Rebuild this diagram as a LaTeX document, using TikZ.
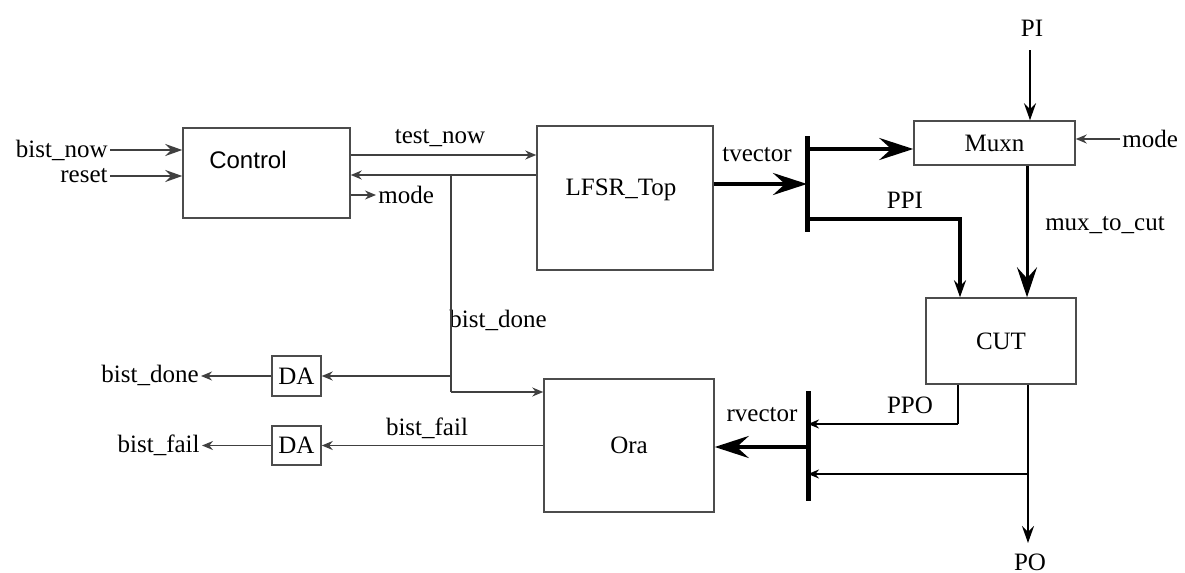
\documentclass[tikz,border=0pt]{standalone}
\usepackage{fontspec}
\setmainfont{Liberation Serif}
\newfontfamily\sansfont{Liberation Sans}
\usetikzlibrary{arrows.meta}

\begin{document}
\begin{tikzpicture}[x=0.5pt,y=-0.5pt,
  font=\fontsize{12.5}{14}\selectfont,
  box/.style={draw=black!70,line width=0.75pt,inner sep=0pt},
  sig/.style={draw=black!75,line width=0.75pt},
  tip/.style={-{Stealth[length=5.5pt,width=4.5pt,inset=1.8pt]}},
  midtip/.style={-{Stealth[length=8.5pt,width=6pt,inset=3pt]}},
  bigtip/.style={-{Stealth[length=15pt,width=10pt,inset=5.5pt]}},
  bustip/.style={-{Stealth[length=17pt,width=11pt,inset=6pt]}},
  bar/.style={line width=2.5pt},
  lbl/.style={inner sep=1pt}]
\useasboundingbox (0,0) rectangle (1185,573);

% blocks
\node[box,minimum width=83.5pt,minimum height=45pt] (ctrl) at (266.5,173) {};
\node[font=\sansfont\fontsize{12}{14}\selectfont] (ctrlt) at (248,160) {Control};
\node[box,minimum width=88pt,minimum height=72pt] (lfsr) at (625,198) {};
\node (lfsrt) at (621,190) {LFSR\_Top};
\node[box,minimum width=80.5pt,minimum height=22pt] (muxn) at (994.5,143) {Muxn};
\node[box,minimum width=75pt,minimum height=43pt] (cut) at (1001,341) {CUT};
\node[box,minimum width=85pt,minimum height=66.5pt] (ora) at (629,445.5) {Ora};
\node[box,minimum width=24.5pt,minimum height=20pt] (da1) at (296.5,376) {DA};
\node[box,minimum width=24.5pt,minimum height=19.5pt] (da2) at (296.5,445.5) {DA};

% port labels
\node[lbl,anchor=east] (bn) at (110,150) {bist\_now};
\node[lbl,anchor=east] (rs) at (110,176) {reset};
\node[lbl,anchor=west] (mo) at (376,195) {mode};
\node[lbl,anchor=west] (mr) at (1120,139) {mode};
\node[lbl] (pi) at (1032,28) {PI};
\node[lbl] (po) at (1030,562) {PO};
\node[lbl,anchor=east] (bdo) at (201,375) {bist\_done};
\node[lbl,anchor=east] (bfo) at (202,445) {bist\_fail};

% signal labels
\node[lbl] (ltn) at (440,138) {test\_now};
\node[lbl] (lbd) at (498,320) {bist\_done};
\node[lbl] (lbf) at (427,428) {bist\_fail};
\node[lbl] (ltv) at (757,155) {tvector};
\node[lbl] (lppi) at (905,200) {PPI};
\node[lbl] (lmc) at (1105,225) {mux\_to\_cut};
\node[lbl] (lppo) at (910,405) {PPO};
\node[lbl] (lrv) at (762,415) {rvector};

% junctions and levels
\coordinate (yTN) at (0,155);
\coordinate (yMB) at (0,175);
\coordinate (yMX) at (0,149);
\coordinate (bdj) at (451,175);
\coordinate (bdc) at (451,392);
\coordinate (b1t) at (807,136);
\coordinate (b1b) at (807,232);
\coordinate (b1m) at (807,184);
\coordinate (ppic) at (960,219);
\coordinate (pis) at (1030,50);
\coordinate (mtc) at (1027,0);
\coordinate (ppoc) at (958,424);
\coordinate (b2t) at (808,391);
\coordinate (b2b) at (808,501);
\coordinate (b2m) at (808,447);
\coordinate (poj) at (1028,474);
\coordinate (poe) at (1028,543);

% control inputs
\draw[sig,line width=1.2pt,midtip] (bn.east) -- (ctrl.west |- bn.east);
\draw[sig,line width=1.2pt,midtip] (rs.east) -- (ctrl.west |- rs.east);

% control <-> LFSR
\draw[sig,tip] (ctrl.east |- yTN) -- (lfsr.west |- yTN);
\draw[sig,tip] (lfsr.west |- yMB) -- (ctrl.east |- yMB);
\draw[sig,tip] (ctrl.east |- mo.west) -- (mo.west);

% bist_done distribution
\draw[sig] (bdj) -- (bdc);
\draw[sig,tip] (bdc) -- (ora.west |- bdc);
\draw[sig,tip] (bdj |- da1.east) -- (da1.east);
\draw[sig,tip] (da1.west) -- (bdo.east |- da1.west);

% bist_fail
\draw[sig,tip] (ora.west |- da2.east) -- (da2.east);
\draw[sig,tip] (da2.west) -- (bfo.east |- da2.west);

% test vector bus
\draw[bar] (b1t) -- (b1b);
\draw[line width=2pt,bustip] (lfsr.east |- b1m) -- (b1m);
\draw[line width=2pt,bustip] (b1t |- yMX) -- (muxn.west |- yMX);
\draw[line width=1.6pt,midtip] (b1b |- ppic) -- (ppic) -- (cut.north -| ppic);

% mux
\draw[line width=1pt,midtip] (pis) -- (muxn.north -| pis);
\draw[sig,tip] (mr.west) -- (muxn.east |- mr.west);
\draw[line width=1.5pt,bigtip] (muxn.south -| mtc) -- (cut.north -| mtc);

% response bus
\draw[bar] (b2t) -- (b2b);
\draw[line width=1.4pt] (cut.south -| ppoc) -- (ppoc);
\draw[line width=1pt,tip] (ppoc) -- (b2t |- ppoc);
\draw[line width=2pt,bustip] (b2m) -- (ora.east |- b2m);
\draw[line width=1pt,midtip] (cut.south -| poj) -- (poe);
\draw[line width=1pt,tip] (poj) -- (b2t |- poj);
\end{tikzpicture}
\end{document}
